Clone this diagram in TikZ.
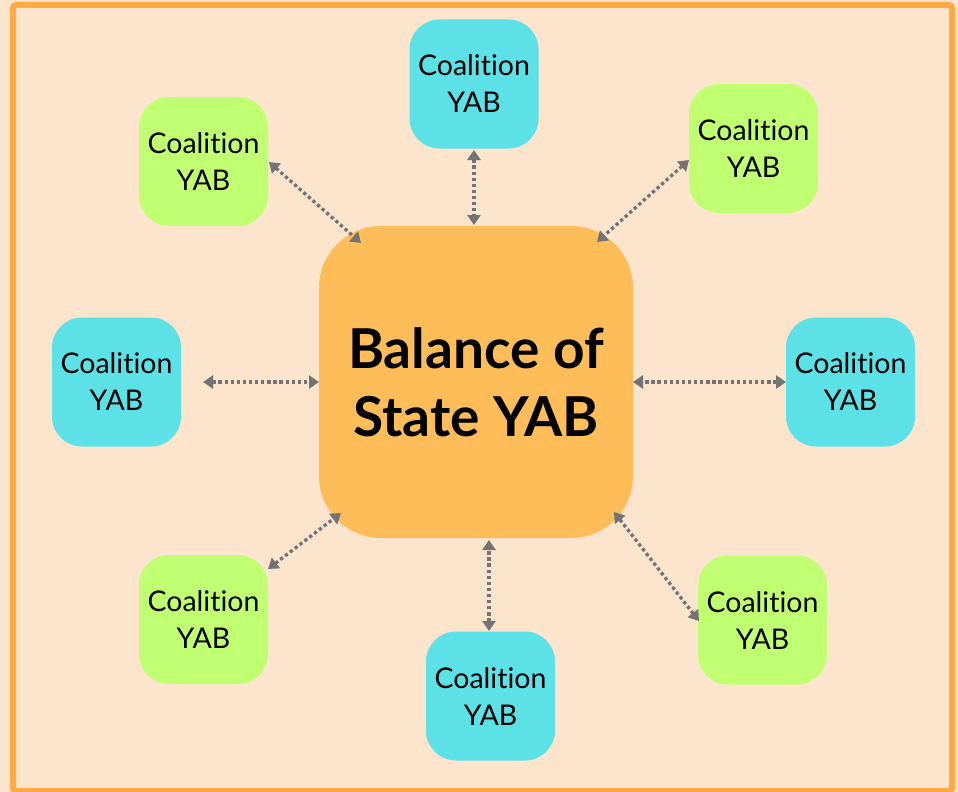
\documentclass[tikz,border=0pt]{standalone}
\usepackage{fontspec}
\setmainfont{Lato}[Ligatures={NoCommon}]
\usetikzlibrary{arrows.meta}
\definecolor{bgpeach}{HTML}{FCE4CD}
\definecolor{frameor}{HTML}{FFAA45}
\definecolor{centeror}{HTML}{FFBD59}
\definecolor{cyanbox}{HTML}{5CE1E6}
\definecolor{greenbox}{HTML}{C1FF72}
\definecolor{arrowgray}{HTML}{737373}
\tikzset{
  smallbox/.style={rectangle, rounded corners=30pt, minimum width=129pt, minimum height=129pt, inner sep=0pt, align=center, font=\fontsize{28.5}{37}\selectfont, text=black},
  cyanstyle/.style={smallbox, fill=cyanbox},
  greenstyle/.style={smallbox, fill=greenbox},
  bigbox/.style={rectangle, rounded corners=62pt, fill=centeror, minimum width=314pt, minimum height=312pt, inner sep=0pt, align=center, font=\fontsize{55}{68}\selectfont\bfseries},
  link/.style={draw=arrowgray, line width=3.3pt, dash pattern=on 3.3pt off 2.8pt, {Triangle[length=10pt,width=13pt,fill=arrowgray]}-{Triangle[length=10pt,width=13pt,fill=arrowgray]}}
}
\begin{document}
\begin{tikzpicture}[x=1pt,y=-1pt]
\useasboundingbox (0,0) rectangle (958,792);
\fill[bgpeach] (0,0) rectangle (958,792);
\draw[frameor, line width=6pt, rounded corners=3pt] (13,5) rectangle (952,791);

\node[bigbox] (c) at (476,382) {Balance of\\State YAB};

\node[cyanstyle] (t) at (474,84) {Coalition\\YAB};
\node[greenstyle] (tl) at (203.5,161.5) {Coalition\\YAB};
\node[greenstyle] (tr) at (753.5,148.5) {Coalition\\YAB};
\node[cyanstyle] (l) at (116.5,382) {Coalition\\YAB};
\node[cyanstyle] (r) at (850.5,382) {Coalition\\YAB};
\node[greenstyle] (bl) at (203.5,619.5) {Coalition\\YAB};
\node[cyanstyle] (b) at (490.5,696) {Coalition\\YAB};
\node[greenstyle] (br) at (762.5,620) {Coalition\\YAB};

\coordinate (tA) at (474,150); \coordinate (tB) at (474,225);
\coordinate (tlA) at (269,162); \coordinate (tlB) at (361,243);
\coordinate (trA) at (689,160); \coordinate (trB) at (597,242);
\coordinate (lA) at (203,382); \coordinate (lB) at (319,382);
\coordinate (rA) at (786,382); \coordinate (rB) at (633,382);
\coordinate (blA) at (268,569); \coordinate (blB) at (341,513);
\coordinate (bA) at (489,631); \coordinate (bB) at (489,540);
\coordinate (brA) at (699,621); \coordinate (brB) at (614,512);

\draw[link] (tA) -- (tB);
\draw[link] (tlA) -- (tlB);
\draw[link] (trA) -- (trB);
\draw[link] (lA) -- (lB);
\draw[link] (rA) -- (rB);
\draw[link] (blA) -- (blB);
\draw[link] (bA) -- (bB);
\draw[link] (brA) -- (brB);
\end{tikzpicture}
\end{document}
